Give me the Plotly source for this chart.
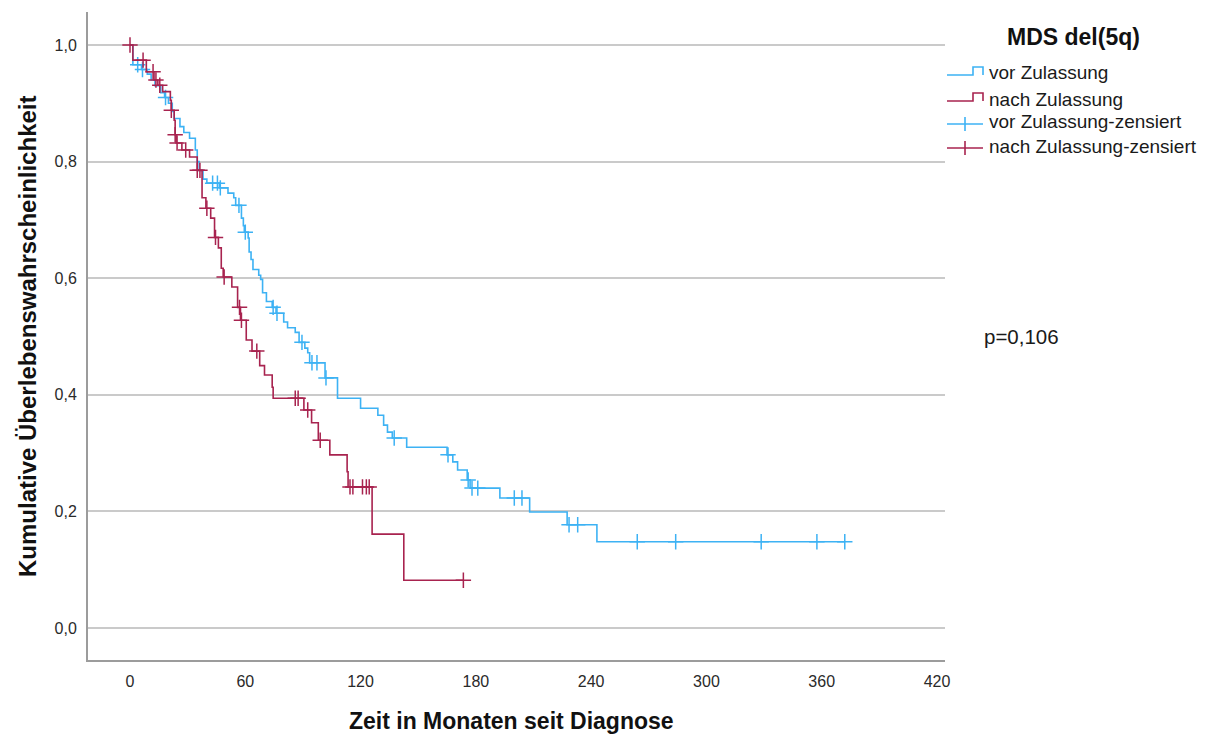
import plotly.graph_objects as go

# Kaplan-Meier estimates: event times (months) and survival after each event
vor_times = [1.5, 6, 9, 11, 13, 16, 18, 20, 22, 23, 26, 28, 31, 34, 35, 36, 38, 40,
             46.5, 51, 54, 55, 58, 59, 59.5, 61.5, 62, 63, 64, 67, 68, 69, 71, 74, 76,
             80, 82, 86, 88, 91, 92.5, 93.5, 101.5, 108, 120, 129, 132, 134, 136.5,
             144, 165, 168, 170.5, 175.5, 177, 192.5, 208, 227.5, 243]
vor_surv = [0.966, 0.958, 0.950, 0.940, 0.930, 0.918, 0.910, 0.900, 0.886, 0.874,
            0.860, 0.850, 0.840, 0.820, 0.800, 0.785, 0.770, 0.763, 0.755, 0.746,
            0.738, 0.725, 0.703, 0.690, 0.679, 0.669, 0.645, 0.632, 0.615, 0.605,
            0.598, 0.575, 0.560, 0.550, 0.540, 0.525, 0.515, 0.507, 0.490, 0.480,
            0.472, 0.455, 0.429, 0.394, 0.377, 0.365, 0.348, 0.336, 0.326, 0.310,
            0.297, 0.285, 0.271, 0.254, 0.240, 0.223, 0.199, 0.177, 0.148]
vor_censored = [4, 6.5, 18.5, 43, 45.5, 47, 56.7, 60, 74.5, 76.5, 89.5, 94.7, 97.3,
                102, 137.5, 165.5, 176, 178, 181, 200, 204, 228.5, 233, 264, 284,
                328.5, 357.5, 372]

nach_times = [1.5, 8.5, 12.5, 14.5, 17, 21, 21.5, 23, 23.5, 24, 27, 31, 35, 37.5,
              39.5, 42, 44, 46, 47.5, 48.5, 53, 56, 57.5, 60.5, 63.5, 67.5, 70, 74,
              74.5, 90.5, 94.5, 98, 104, 113, 113.5, 126, 142.5]
nach_surv = [0.974, 0.954, 0.940, 0.931, 0.920, 0.905, 0.888, 0.871, 0.846, 0.832,
             0.820, 0.808, 0.785, 0.738, 0.720, 0.703, 0.670, 0.652, 0.617, 0.602,
             0.585, 0.550, 0.528, 0.494, 0.475, 0.450, 0.434, 0.413, 0.394, 0.374,
             0.352, 0.322, 0.297, 0.268, 0.242, 0.161, 0.082]
nach_censored = [0, 6.8, 12, 13.5, 15.5, 21.5, 23.5, 24.5, 29, 35, 36.4, 40, 44.5, 49,
                 57, 58, 66, 86, 87.5, 92.5, 99, 114.5, 116, 121, 123, 124.5, 173.5]

x_ticks = [0, 60, 120, 180, 240, 300, 360, 420]
y_ticks = [0.0, 0.2, 0.4, 0.6, 0.8, 1.0]
legend_labels = ["vor Zulassung", "nach Zulassung",
                 "vor Zulassung-zensiert", "nach Zulassung-zensiert"]
legend_title = "MDS del(5q)"
p_text = "p=0,106"

BLUE = "#3db2f4"
RED = "#a8234f"
FONT = "Liberation Sans, Arial, sans-serif"

W, H = 1217, 736
L, R, T, B = 88, 945, 12, 660


def surv_at(times, surv, t):
    s = 1.0
    for ti, si in zip(times, surv):
        if ti <= t:
            s = si
        else:
            break
    return s


def step_path(times, surv, end):
    xs, ys = [0.0], [1.0]
    for ti, si in zip(times, surv):
        xs.append(ti)
        ys.append(si)
    xs.append(end)
    ys.append(surv[-1])
    return xs, ys


def px(x):
    return (x - L) / (R - L)


def py(y):
    return (B - y) / (B - T)


fig = go.Figure()

for times, surv, cens, color in [
    (vor_times, vor_surv, vor_censored, BLUE),
    (nach_times, nach_surv, nach_censored, RED),
]:
    xs, ys = step_path(times, surv, max(cens[-1], times[-1]))
    fig.add_trace(go.Scatter(x=xs, y=ys, mode="lines", line=dict(color=color, width=1.6, shape="hv"),
                             showlegend=False, hoverinfo="skip"))
    fig.add_trace(go.Scatter(x=cens, y=[surv_at(times, surv, c) for c in cens], mode="markers",
                             marker=dict(symbol="cross-thin", size=11, line=dict(color=color, width=1.5)),
                             showlegend=False, hoverinfo="skip"))

shapes = []
annotations = []

# Legend glyphs: step lines for the curves, crosses for censoring marks
legend_rows = [75, 101, 124, 148]
for i, (label, yc) in enumerate(zip(legend_labels, legend_rows)):
    color = BLUE if i % 2 == 0 else RED
    if i < 2:
        path = "M {:.5f},{:.5f} L {:.5f},{:.5f} L {:.5f},{:.5f} L {:.5f},{:.5f} L {:.5f},{:.5f}".format(
            px(947), py(yc), px(973), py(yc), px(973), py(yc - 8), px(983), py(yc - 8), px(983), py(yc))
        shapes.append(dict(type="path", xref="paper", yref="paper", path=path,
                           line=dict(color=color, width=1.6)))
    else:
        shapes.append(dict(type="line", xref="paper", yref="paper", x0=px(947), x1=px(983),
                           y0=py(yc), y1=py(yc), line=dict(color=color, width=1.6)))
        shapes.append(dict(type="line", xref="paper", yref="paper", x0=px(965), x1=px(965),
                           y0=py(yc - 7), y1=py(yc + 7), line=dict(color=color, width=1.6)))
    annotations.append(dict(text=label, xref="paper", yref="paper", x=px(987), y=py(yc - 2),
                            xanchor="left", yanchor="middle", showarrow=False,
                            font=dict(family=FONT, size=19, color="#1a1a1a")))

annotations.append(dict(text="<b>" + legend_title + "</b>", xref="paper", yref="paper",
                        x=px(1073), y=py(37), xanchor="center", yanchor="middle", showarrow=False,
                        font=dict(family=FONT, size=23, color="#111")))
annotations.append(dict(text=p_text, xref="paper", yref="paper", x=px(982), y=py(336),
                        xanchor="left", yanchor="middle", showarrow=False,
                        font=dict(family=FONT, size=20.5, color="#1a1a1a")))
annotations.append(dict(text="<b>Zeit in Monaten seit Diagnose</b>", xref="paper", yref="paper",
                        x=px(511), y=py(721), xanchor="center", yanchor="middle", showarrow=False,
                        font=dict(family=FONT, size=23, color="#111")))
annotations.append(dict(text="<b>Kumulative Überlebenswahrscheinlichkeit</b>", xref="paper", yref="paper",
                        x=px(27), y=py(336), xanchor="center", yanchor="middle", showarrow=False,
                        textangle=-90, font=dict(family=FONT, size=24, color="#111")))

x0 = -42 / (807 / 420)
x1 = x0 + (R - L) / (807 / 420)
y1 = 1 + (45 - T) / 583
y0 = y1 - (B - T) / 583

fig.update_layout(
    width=W, height=H,
    margin=dict(l=L, r=W - R, t=T, b=H - B),
    paper_bgcolor="white", plot_bgcolor="white",
    separators=",.",
    showlegend=False,
    shapes=shapes,
    annotations=annotations,
    xaxis=dict(range=[x0, x1], tickvals=x_ticks, showgrid=False, zeroline=False,
               showline=True, linecolor="#9c9c9c", linewidth=2,
               ticks="outside", ticklen=6, tickcolor="rgba(0,0,0,0)",
               tickfont=dict(family=FONT, size=16, color="#2a2a2a")),
    yaxis=dict(range=[y0, y1], tickvals=y_ticks, tickformat=".1f", showgrid=True,
               gridcolor="#cacaca", gridwidth=1.6, zeroline=False,
               showline=True, linecolor="#9c9c9c", linewidth=2,
               ticks="outside", ticklen=6, tickcolor="rgba(0,0,0,0)",
               tickfont=dict(family=FONT, size=16, color="#2a2a2a")),
)

fig.write_html("out.html")
